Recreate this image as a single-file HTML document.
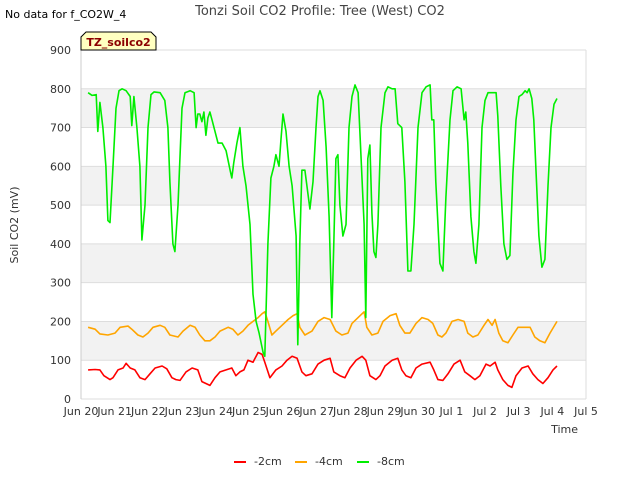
<!DOCTYPE html>
<html><head><meta charset="utf-8"><style>
body{margin:0;background:#fff;font-family:"Liberation Sans","DejaVu Sans",sans-serif}
svg text{font-family:"DejaVu Sans","Liberation Sans",sans-serif}
</style></head><body>
<svg id="c" width="640" height="480" xmlns="http://www.w3.org/2000/svg">
<text x="5" y="18" font-size="11" fill="#000">No data for f_CO2W_4</text>
<text x="320" y="15" font-size="13" fill="#444" text-anchor="middle">Tonzi Soil CO2 Profile: Tree (West) CO2</text>
<text x="18" y="225" font-size="11" fill="#333" text-anchor="middle" transform="rotate(-90 18 225)">Soil CO2 (mV)</text>
<text x="578" y="433" font-size="11" fill="#333" text-anchor="end">Time</text>
<g id="bands"></g><g id="grid"></g><g id="series"></g>
<g>
<path d="M81,50 L81,37 L86,32 L151,32 L156,37 L156,50 Z" fill="#ffffc0" stroke="#000" stroke-width="1"/>
<text x="118.5" y="46" font-size="11" font-weight="bold" fill="#8b0000" text-anchor="middle">TZ_soilco2</text>
</g>
<g id="legend"></g>
</svg>
<script>
const xTickLabels=["Jun 20","Jun 21","Jun 22","Jun 23","Jun 24","Jun 25","Jun 26","Jun 27","Jun 28","Jun 29","Jun 30","Jul 1","Jul 2","Jul 3","Jul 4","Jul 5"];
const yTicks=[0,100,200,300,400,500,600,700,800,900];
const seriesNames=["-2cm","-4cm","-8cm"];
const seriesColors=["#ff0000","#ffa500","#00ee00"];
const t8=[0.21,0.33,0.45,0.50,0.56,0.65,0.74,0.80,0.86,0.95,1.04,1.13,1.22,1.34,1.46,1.51,1.57,1.66,1.75,1.81,1.90,1.99,2.08,2.17,2.35,2.49,2.58,2.64,2.73,2.79,2.88,3.00,3.09,3.24,3.36,3.42,3.47,3.53,3.59,3.65,3.71,3.77,3.83,3.89,3.95,4.07,4.19,4.31,4.43,4.48,4.54,4.63,4.72,4.81,4.90,5.02,5.11,5.20,5.29,5.41,5.46,5.55,5.64,5.73,5.79,5.88,5.94,6.00,6.09,6.18,6.27,6.39,6.44,6.50,6.56,6.65,6.74,6.80,6.89,6.98,7.04,7.10,7.19,7.28,7.37,7.45,7.51,7.57,7.63,7.69,7.78,7.87,7.96,8.05,8.14,8.23,8.32,8.41,8.46,8.52,8.58,8.64,8.70,8.76,8.82,8.91,9.03,9.12,9.24,9.33,9.41,9.53,9.62,9.71,9.80,9.89,10.01,10.13,10.25,10.37,10.42,10.48,10.54,10.66,10.75,10.84,10.96,11.05,11.17,11.29,11.38,11.43,11.49,11.58,11.67,11.73,11.82,11.91,12.00,12.09,12.24,12.33,12.38,12.47,12.56,12.65,12.74,12.83,12.92,13.01,13.10,13.19,13.25,13.31,13.39,13.45,13.51,13.60,13.69,13.78,13.87,13.96,14.05,14.14];
const v8=[790,783,785,690,765,700,600,460,455,600,750,795,800,795,780,705,780,700,600,410,500,700,785,792,790,770,700,560,400,380,500,750,790,795,790,700,735,735,715,740,680,725,740,720,700,660,660,640,590,570,610,660,700,600,550,450,270,200,170,120,110,400,570,600,630,600,670,735,690,600,550,420,140,400,590,590,530,490,560,700,780,795,770,650,470,210,400,620,630,500,420,450,700,780,810,790,620,450,210,620,655,480,380,365,450,700,790,805,800,800,710,700,560,330,330,450,700,790,805,810,720,720,560,350,330,520,720,795,805,800,720,740,660,470,380,350,450,700,770,790,790,790,730,550,400,360,370,580,720,780,785,795,790,800,775,720,600,420,340,360,550,700,760,775];
const t4=[0.21,0.42,0.56,0.80,1.01,1.16,1.40,1.51,1.69,1.84,1.99,2.14,2.35,2.49,2.64,2.88,3.03,3.24,3.39,3.53,3.68,3.83,3.98,4.13,4.37,4.51,4.66,4.81,4.96,5.11,5.26,5.38,5.46,5.55,5.67,5.79,5.97,6.15,6.30,6.42,6.50,6.65,6.86,7.04,7.22,7.40,7.57,7.75,7.93,8.05,8.23,8.41,8.49,8.64,8.82,8.97,9.18,9.36,9.47,9.62,9.77,9.95,10.13,10.31,10.45,10.60,10.72,10.84,11.02,11.20,11.38,11.49,11.64,11.79,11.97,12.09,12.21,12.30,12.41,12.53,12.68,12.83,12.98,13.19,13.34,13.48,13.63,13.78,13.93,14.14];
const v4=[185,180,168,165,170,185,188,180,165,160,170,185,190,185,165,160,175,190,185,165,150,150,160,175,185,180,165,175,190,200,210,220,225,200,165,175,190,205,215,220,185,165,175,200,210,205,175,165,170,195,210,225,185,165,170,200,215,220,190,170,170,195,210,205,195,165,160,170,200,205,200,170,160,165,190,205,190,205,170,150,145,165,185,185,185,160,150,145,170,200];
const t2=[0.21,0.42,0.56,0.68,0.86,0.95,1.10,1.25,1.34,1.46,1.60,1.75,1.90,2.05,2.20,2.41,2.55,2.70,2.82,2.94,3.12,3.30,3.47,3.59,3.71,3.83,3.98,4.13,4.31,4.48,4.60,4.72,4.84,4.96,5.11,5.26,5.38,5.46,5.61,5.79,5.97,6.12,6.27,6.42,6.56,6.68,6.86,7.04,7.22,7.40,7.51,7.69,7.84,7.99,8.17,8.35,8.46,8.58,8.76,8.88,9.03,9.24,9.41,9.53,9.65,9.80,9.95,10.13,10.37,10.48,10.60,10.75,10.90,11.08,11.26,11.40,11.55,11.70,11.85,12.03,12.15,12.30,12.38,12.53,12.68,12.80,12.92,13.10,13.28,13.42,13.57,13.72,13.87,14.02,14.14];
const v2=[75,76,75,60,50,55,75,80,92,80,75,55,50,65,80,85,78,55,50,48,70,80,75,45,40,35,55,70,75,80,60,70,75,100,95,120,115,95,55,75,85,100,110,105,70,60,65,90,100,105,70,60,55,80,100,110,100,60,50,60,85,100,105,75,60,55,80,90,95,75,50,48,65,90,100,70,60,50,60,90,85,95,75,50,35,30,60,80,85,65,50,40,55,75,85];
const X0=81,X1=586,Y0=399,Y1=50,D=15,VMAX=900;
const sx=d=>X0+(d/D)*(X1-X0), sy=v=>Y0-(v/VMAX)*(Y0-Y1);
const NS="http://www.w3.org/2000/svg";
function mk(tag,parent){const e=document.createElementNS(NS,tag);parent.appendChild(e);return e;}
const bands=document.getElementById('bands'),grid=document.getElementById('grid'),ser=document.getElementById('series'),leg=document.getElementById('legend');
for(let v=100;v<900;v+=200){const r=mk('rect',bands);


r.setAttribute('x',X0);r.setAttribute('y',sy(v+100));r.setAttribute('width',X1-X0);r.setAttribute('height',sy(v)-sy(v+100));r.setAttribute('fill','#f2f2f2');}
yTicks.forEach(v=>{const l=mk('line',grid);


l.setAttribute('x1',X0);l.setAttribute('x2',X1);l.setAttribute('y1',sy(v));l.setAttribute('y2',sy(v));l.setAttribute('stroke','#dddddd');
const t=mk('text',grid);


t.setAttribute('x',X0-10);t.setAttribute('y',sy(v)+4);t.setAttribute('text-anchor','end');t.setAttribute('font-size','11');t.setAttribute('fill','#333');t.textContent=v;});
const ax=mk('line',grid);


ax.setAttribute('x1',X0);ax.setAttribute('x2',X0);ax.setAttribute('y1',Y1);ax.setAttribute('y2',Y0);ax.setAttribute('stroke','#ccc');
const rx=mk('line',grid);


rx.setAttribute('x1',X1);rx.setAttribute('x2',X1);rx.setAttribute('y1',Y1);rx.setAttribute('y2',Y0);rx.setAttribute('stroke','#ddd');
xTickLabels.forEach((s,i)=>{const t=mk('text',grid);


t.setAttribute('x',sx(i));t.setAttribute('y',415);t.setAttribute('text-anchor','middle');t.setAttribute('font-size','11');t.setAttribute('fill','#333');t.textContent=s;});
[[t2,v2],[t4,v4],[t8,v8]].forEach(([ts,vs],k)=>{const p=mk('polyline',ser);


p.setAttribute('points',ts.map((t,i)=>sx(t).toFixed(1)+','+sy(vs[i]).toFixed(1)).join(' '));
p.setAttribute('fill','none');p.setAttribute('stroke',seriesColors[k]);p.setAttribute('stroke-width','1.6');p.setAttribute('stroke-linejoin','round');});
const lx=[234,295,357];
seriesNames.forEach((n,k)=>{const g=mk('g',leg);


const l=mk('line',g);l.setAttribute('x1',lx[k]);l.setAttribute('x2',lx[k]+12);l.setAttribute('y1',462);l.setAttribute('y2',462);l.setAttribute('stroke',seriesColors[k]);l.setAttribute('stroke-width','2');
const t=mk('text',g);t.setAttribute('x',lx[k]+20);t.setAttribute('y',465);t.setAttribute('font-size','11');t.setAttribute('fill','#333');t.textContent=n;});
</script>
</body></html>
